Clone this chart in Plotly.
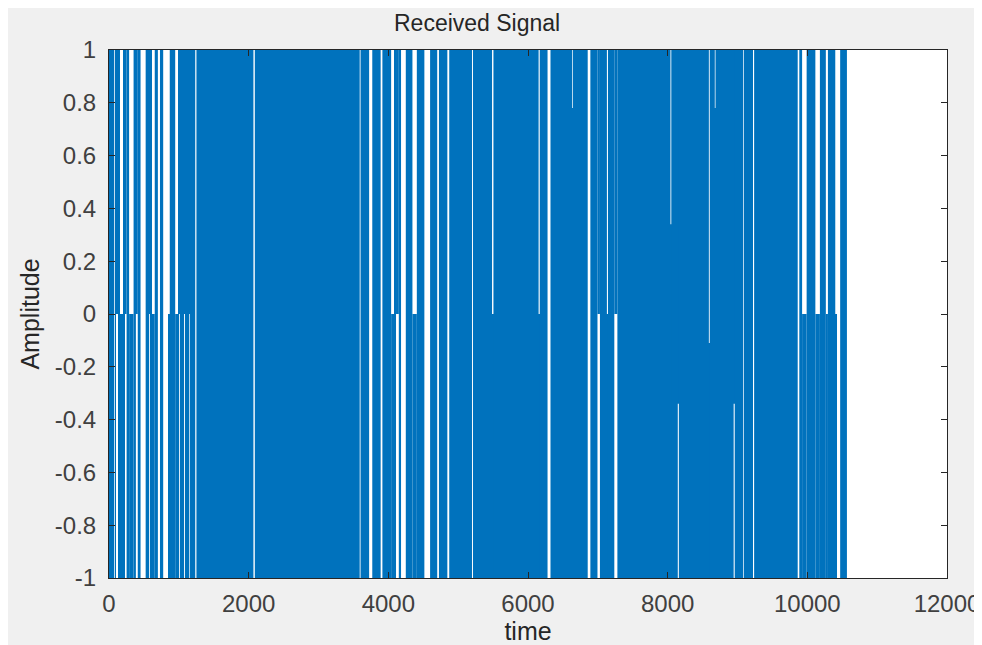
import plotly.graph_objects as go

# ---- data ----
signal_end = 10567          # last sample (time)
amp_low, amp_high = -1, 1   # full swing of the dense signal

# quiet stretches: during [start, end] the trace only spans [lo, hi]
quiet_start = [75, 100, 145, 228, 288, 385, 452, 575, 607, 700, 776, 845, 948,
               1000, 1075, 1150, 1235, 2068,
               3590, 3725, 3890, 4040, 4110, 4182, 4345, 4516, 4700, 4845, 5198, 5485,
               6152, 6280, 6632, 6855, 6995, 7130, 7236,
               8040, 8145, 8590, 8675, 8945, 9080, 9222, 9862, 9925, 10115, 10265,
               10400, 10425]
quiet_end = [92, 140, 210, 252, 352, 412, 525, 600, 655, 730, 845, 870, 1003,
             1015, 1088, 1160, 1252, 2088,
             3602, 3770, 3915, 4094, 4150, 4250, 4408, 4598, 4725, 4872, 5212, 5505,
             6168, 6322, 6642, 6893, 7030, 7145, 7280,
             8052, 8160, 8602, 8685, 8960, 9090, 9238, 9885, 9990, 10180, 10295,
             10425, 10470]
quiet_lo = [0, 0, -1, 0, -1, 0, 0, 0, -1, 0, 0, -1, -1,
            0, 0, 0, 0, 0,
            0, 0, 0, -1, 0, 0, -1, 0, 0, 0, 0, -1,
            -1, 0, -1, 0, 0, -1, 0,
            -1, -0.34, -1, -1, -0.34, 0, 0, 0, -1, -1, -1,
            -1, 0]
quiet_hi = [0, 1, 0, 1, 0, 1, 0, 1, 0, 0, 0, 0, 0,
            1, 1, 1, 0, 0,
            0, 0, 0, 0, 1, 0, 0, 0, 0, 0, 0, 0,
            0, 0, 0.78, 0, 1, 0, 1,
            0.34, 1, -0.11, 0.78, 1, 0, 0, 0, 0, 0, 0,
            0, 0]

x_ticks = [0, 2000, 4000, 6000, 8000, 10000, 12000]
x_tick_text = ["0", "2000", "4000", "6000", "8000", "10000", "12000"]
y_ticks = [-1, -0.8, -0.6, -0.4, -0.2, 0, 0.2, 0.4, 0.6, 0.8, 1]
y_tick_text = ["-1", "-0.8", "-0.6", "-0.4", "-0.2", "0", "0.2", "0.4", "0.6", "0.8", "1"]

# ---- build the band segments ----
seg_s, seg_e, seg_lo, seg_hi = [], [], [], []
t = 0
for s, e, lo, hi in zip(quiet_start, quiet_end, quiet_lo, quiet_hi):
    if s > t:
        seg_s.append(t); seg_e.append(s); seg_lo.append(amp_low); seg_hi.append(amp_high)
    seg_s.append(s); seg_e.append(e); seg_lo.append(lo); seg_hi.append(hi)
    t = e
if t < signal_end:
    seg_s.append(t); seg_e.append(signal_end); seg_lo.append(amp_low); seg_hi.append(amp_high)

xs, ws, bases, hs = [], [], [], []
for s, e, lo, hi in zip(seg_s, seg_e, seg_lo, seg_hi):
    if hi - lo <= 0:
        continue
    xs.append((s + e) / 2)
    ws.append(e - s)
    bases.append(lo)
    hs.append(hi - lo)

BLUE = "#0072BD"
fig = go.Figure(go.Bar(x=xs, y=hs, base=bases, width=ws,
                       marker=dict(color=BLUE, line=dict(width=0)),
                       hoverinfo="skip"))

FONT = "Liberation Sans, Arial, sans-serif"
TXT = "#262626"
fig.update_layout(
    width=990, height=645,
    margin=dict(l=101, r=51, t=42, b=75, autoexpand=False),
    paper_bgcolor="#f0f0f0", plot_bgcolor="white",
    showlegend=False, barmode="overlay",
    font=dict(family=FONT, color=TXT, size=24),
)
fig.update_xaxes(range=[0, 12000], tickvals=x_ticks, ticktext=x_tick_text,
                 showgrid=False, zeroline=False, automargin=False,
                 showline=True, linecolor="#262626", linewidth=1, mirror="ticks",
                 ticks="inside", ticklen=6, tickcolor="#262626",
                 ticklabelstandoff=4, ticklabeloverflow="allow",
                 tickfont=dict(size=24, color="#404040"),
                 title=dict(text="time", font=dict(size=25, color=TXT), standoff=4))
fig.update_yaxes(range=[-1, 1], tickvals=y_ticks, ticktext=y_tick_text, showgrid=False,
                 zeroline=False, showline=True, linecolor="#262626", linewidth=1,
                 automargin=False, mirror="ticks", ticks="inside", ticklen=6,
                 tickcolor="#262626", ticklabelstandoff=7,
                 tickfont=dict(size=24, color="#404040"),
                 title=dict(text="Amplitude", font=dict(size=25, color=TXT), standoff=8))
fig.add_annotation(text="Received Signal", xref="paper", yref="paper",
                   x=0.439, y=1.0, yshift=12, xanchor="center", yanchor="bottom",
                   showarrow=False, font=dict(size=23, color=TXT))

fig.write_html("out.html")
